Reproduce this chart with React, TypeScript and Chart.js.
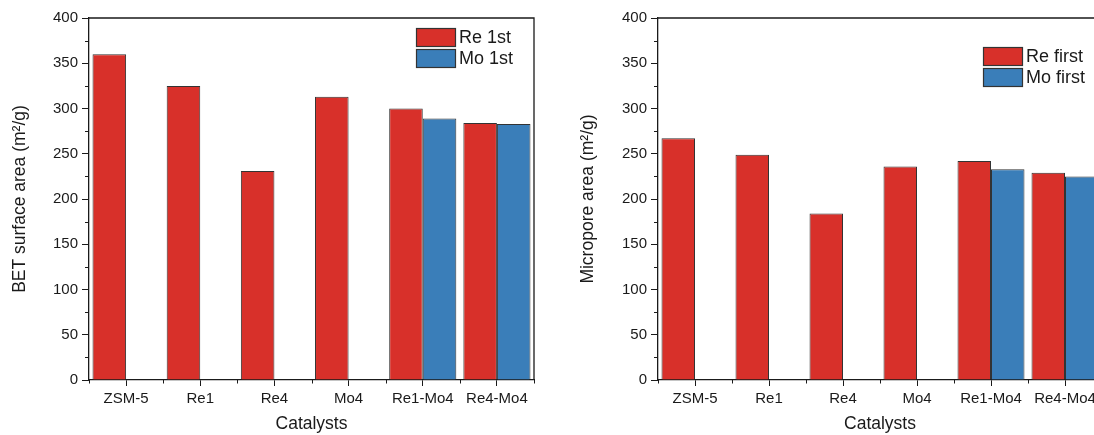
import React, { useEffect, useRef } from "react";
import { Chart, registerables } from "chart.js";

Chart.register(...registerables);

// Catalyst samples along the x axis
const categories = ["ZSM-5", "Re1", "Re4", "Mo4", "Re1-Mo4", "Re4-Mo4"];

// BET surface area (m²/g)
const betReFirst = [360, 325, 231, 313, 300, 284];
const betMoFirst = [null, null, null, null, 289, 283];

// Micropore area (m²/g)
const microReFirst = [267, 249, 184, 236, 242, 229];
const microMoFirst = [null, null, null, null, 233, 225];

// Value axis
const yMin = 0;
const yMax = 400;
const yStep = 50;

const RED = "#D8302A";
const BLUE = "#3A7EB9";
const EDGE = "#333333";
const INK = "#1a1a1a";
const FONT = "'Liberation Sans', Arial, Helvetica, sans-serif";

const W = 560;
const H = 435;

type PanelProps = {
  left: number;
  yTitle: string;
  labels: [string, string];
  reFirst: (number | null)[];
  moFirst: (number | null)[];
  yAxisWidth: number;
  padRight: number;
  yTitlePad: number;
  legendX: number;
  legendY: number;
};

// Frame, minor ticks and the swatch legend
const decorPlugin = {
  id: "decor",
  afterDraw(chart: any, _args: any, opts: any) {
    const { ctx, chartArea: a, scales } = chart;
    const xs = scales.x;
    const ys = scales.y;
    ctx.save();

    ctx.strokeStyle = INK;
    ctx.lineWidth = 1.3;
    ctx.beginPath();
    ctx.moveTo(a.left, a.top);
    ctx.lineTo(a.right, a.top);
    ctx.lineTo(a.right, a.bottom);
    ctx.stroke();

    ctx.lineWidth = 1;
    ctx.beginPath();
    for (let v = yMin + yStep / 2; v < yMax; v += yStep) {
      const py = Math.round(ys.getPixelForValue(v)) + 0.5;
      ctx.moveTo(a.left - 4, py);
      ctx.lineTo(a.left, py);
    }
    const n = categories.length;
    for (let i = 0; i <= n; i++) {
      const px =
        i === 0
          ? a.left
          : i === n
          ? a.right
          : (xs.getPixelForValue(i - 1) + xs.getPixelForValue(i)) / 2;
      const rx = Math.round(px) + 0.5;
      ctx.moveTo(rx, a.bottom);
      ctx.lineTo(rx, a.bottom + 3.5);
    }
    ctx.stroke();

    const boxW = 40;
    const boxH = 19;
    const gap = 2;
    ctx.font = `18px ${FONT}`;
    ctx.textBaseline = "middle";
    ctx.textAlign = "left";
    chart.data.datasets.forEach((ds: any, i: number) => {
      const bx = opts.x;
      const by = opts.y + i * (boxH + gap);
      ctx.fillStyle = ds.backgroundColor;
      ctx.fillRect(bx, by, boxW, boxH);
      ctx.strokeStyle = EDGE;
      ctx.lineWidth = 1.2;
      ctx.strokeRect(bx + 0.5, by + 0.5, boxW - 1, boxH - 1);
      ctx.fillStyle = INK;
      ctx.fillText(ds.label, bx + boxW + 3, by + boxH / 2 + 1);
    });

    ctx.restore();
  },
};

function Panel(p: PanelProps) {
  const ref = useRef<HTMLCanvasElement>(null);

  useEffect(() => {
    if (!ref.current) return;
    const chart = new Chart(ref.current, {
      type: "bar",
      data: {
        labels: categories,
        datasets: [
          {
            label: p.labels[0],
            data: p.reFirst,
            backgroundColor: RED,
            borderColor: EDGE,
            borderWidth: 1,
          },
          {
            label: p.labels[1],
            data: p.moFirst,
            backgroundColor: BLUE,
            borderColor: EDGE,
            borderWidth: 1,
          },
        ],
      },
      options: {
        responsive: false,
        maintainAspectRatio: false,
        animation: false,
        datasets: {
          bar: { categoryPercentage: 0.905, barPercentage: 1 },
        },
        layout: { padding: { top: 18, right: p.padRight, left: 0, bottom: 0 } },
        plugins: {
          legend: { display: false },
          tooltip: { enabled: false },
          decor: { x: p.legendX, y: p.legendY },
        } as any,
        scales: {
          x: {
            offset: true,
            grid: {
              display: true,
              drawOnChartArea: false,
              drawTicks: true,
              tickLength: 6,
              offset: false,
              color: INK,
              lineWidth: 1,
            },
            border: { display: true, color: INK, width: 1.3 },
            ticks: {
              color: INK,
              padding: 4,
              maxRotation: 0,
              autoSkip: false,
              font: { family: FONT, size: 15 },
            },
            title: {
              display: true,
              text: "Catalysts",
              color: INK,
              padding: { top: 0, bottom: 0 },
              font: { family: FONT, size: 17.5 },
            },
            afterFit: (s: any) => {
              s.height = 55;
            },
          },
          y: {
            min: yMin,
            max: yMax,
            grid: {
              display: true,
              drawOnChartArea: false,
              drawTicks: true,
              tickLength: 7,
              color: INK,
              lineWidth: 1,
            },
            border: { display: true, color: INK, width: 1.3 },
            ticks: {
              stepSize: yStep,
              color: INK,
              padding: 4,
              font: { family: FONT, size: 15 },
            },
            title: {
              display: true,
              text: p.yTitle,
              color: INK,
              padding: { top: p.yTitlePad, bottom: 0 },
              font: { family: FONT, size: 17.5 },
            },
            afterFit: (s: any) => {
              s.width = p.yAxisWidth;
            },
          },
        },
      },
      plugins: [decorPlugin],
    });
    return () => chart.destroy();
  }, []);

  return (
    <canvas
      ref={ref}
      width={W}
      height={H}
      style={{ position: "absolute", left: p.left, top: 0, width: W, height: H }}
    />
  );
}

export default function App() {
  return (
    <div
      style={{
        position: "fixed",
        left: 0,
        top: 0,
        width: 1094,
        height: 435,
        overflow: "hidden",
        background: "#ffffff",
      }}
    >
      <Panel
        left={0}
        yTitle="BET surface area (m²/g)"
        labels={["Re 1st", "Mo 1st"]}
        reFirst={betReFirst}
        moFirst={betMoFirst}
        yAxisWidth={89}
        padRight={26}
        yTitlePad={9.5}
        legendX={416}
        legendY={28}
      />
      <Panel
        left={560}
        yTitle="Micropore area (m²/g)"
        labels={["Re first", "Mo first"]}
        reFirst={microReFirst}
        moFirst={microMoFirst}
        yAxisWidth={98}
        padRight={18}
        yTitlePad={17.5}
        legendX={423}
        legendY={47}
      />
    </div>
  );
}
